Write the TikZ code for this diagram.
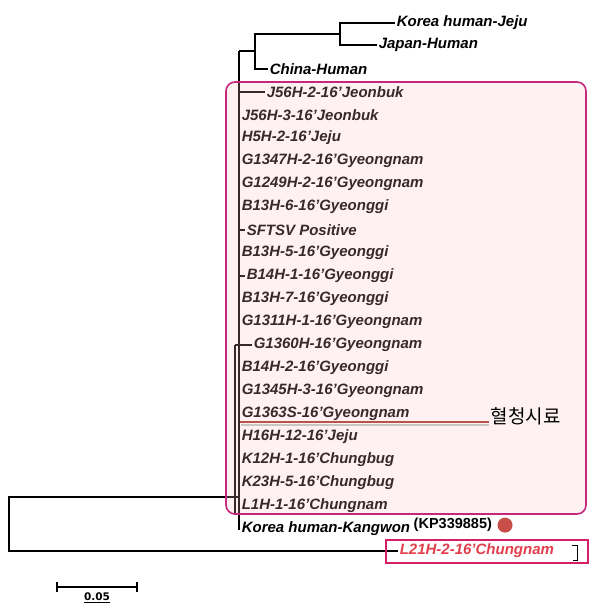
\documentclass[tikz,border=0pt]{standalone}
\usepackage{fontspec}
\setmainfont{Liberation Sans}
\newfontfamily\korfont{Noto Sans CJK KR}
\newfontfamily\barfont{DejaVu Sans}
\usetikzlibrary{positioning,calc}
\definecolor{boxfill}{RGB}{245,190,190}
\definecolor{boxline}{RGB}{196,40,122}
\definecolor{l21line}{RGB}{214,30,100}
\definecolor{redtext}{RGB}{226,62,76}
\definecolor{reddot}{RGB}{200,78,72}
\definecolor{seraline}{RGB}{186,82,78}

\begin{document}
\begin{tikzpicture}[x=1pt, y=-1pt, line width=1.6pt, leaf node/.style={anchor=west,inner sep=1pt,font=\fontsize{15}{17}\selectfont\bfseries\itshape}]
\useasboundingbox (0,0) rectangle (597,610);
\begin{scope}[every node/.style={leaf node}]
\node (jeju) at (395,23) {Korea human-Jeju};
\node (japan) at (377,45) {Japan-Human};
\node (china) at (268,69) {China-Human};
\foreach \bx/\lab [count=\i] in {265/J56H-2-16'Jeonbuk, 240/J56H-3-16'Jeonbuk, 240/H5H-2-16'Jeju,
  240/G1347H-2-16'Gyeongnam, 240/G1249H-2-16'Gyeongnam, 240/B13H-6-16'Gyeonggi, 245/SFTSV Positive,
  240/B13H-5-16'Gyeonggi, 245/B14H-1-16'Gyeonggi, 240/B13H-7-16'Gyeonggi, 240/G1311H-1-16'Gyeongnam,
  252/G1360H-16'Gyeongnam, 240/B14H-2-16'Gyeonggi, 240/G1345H-3-16'Gyeongnam, 240/G1363S-16'Gyeongnam,
  240/H16H-12-16'Jeju, 240/K12H-1-16'Chungbug, 240/K23H-5-16'Chungbug, 240/L1H-1-16'Chungnam}
  \node (s\i) at (\bx,{69+23*\i}) {\lab};
\node (kangwon) at (240,529) {Korea human-Kangwon};
\node[anchor=base west, font=\fontsize{14.5}{16}\selectfont\bfseries, yshift=4pt] (kp) at (kangwon.base east) {(KP339885)};
\node[text=redtext] (l21) at (398,551) {L21H-2-16'Chungnam};
\end{scope}
\node[circle, fill=reddot, minimum size=15pt, inner sep=0pt, right=3pt of kp] (dot) {};

% branches
\coordinate (n0) at (9,524);
\coordinate (n1) at (239,497);
\coordinate (n2) at (239,51);
\coordinate (n3) at (255,51);
\coordinate (n4) at (340,34);
\coordinate (n5) at (235,345);
\draw (n1) -| (n0) |- (l21.west);
\draw[line width=1.9pt] (n2) |- (kangwon.west);
\draw (n2) -- (n3);
\draw (n4) -| (n3) |- (china.west);
\draw (jeju.west) -| (n4) |- (japan.west);
\foreach \i in {1,...,19}
  \draw (n2 |- s\i.west) -- (s\i.west);
\draw (n5) -- (s12.west);
\draw[line width=2.4pt] (n5) -- (n5 |- s19.south);

% highlighted group
\fill[boxfill, fill opacity=0.22, rounded corners=9pt] (226,82) rectangle (586,514);
\draw[boxline, line width=1.6pt, rounded corners=9pt] (226,82) rectangle (586,514);
\node[font=\korfont\fontsize{19}{21}\selectfont, anchor=west, inner sep=1pt] (sera) at (489,416) {혈청시료};
\coordinate (u) at (240,422);
\draw[black!22, line width=2.5pt] ($(u)+(1,3)$) -- ($(sera.west |- u)+(0,3)$);
\draw[seraline, line width=2.5pt] (u) -- (sera.west |- u);

\draw[l21line, line width=1.5pt] (386,540) rectangle (588,563);
\draw[line width=1pt] (572,545) -| (577,560) -- (573,560);

% scale
\coordinate (sb1) at (57,587);
\coordinate (sb2) at (137,587);
\draw (sb1) -- (sb2);
\draw (57,582) -- (57,592) (137,582) -- (137,592);
\node[font=\barfont\fontsize{10.5}{12}\selectfont\bfseries, anchor=north, inner sep=1pt] (sbl) at (97,591) {\underline{0.05}};
\end{tikzpicture}
\end{document}
